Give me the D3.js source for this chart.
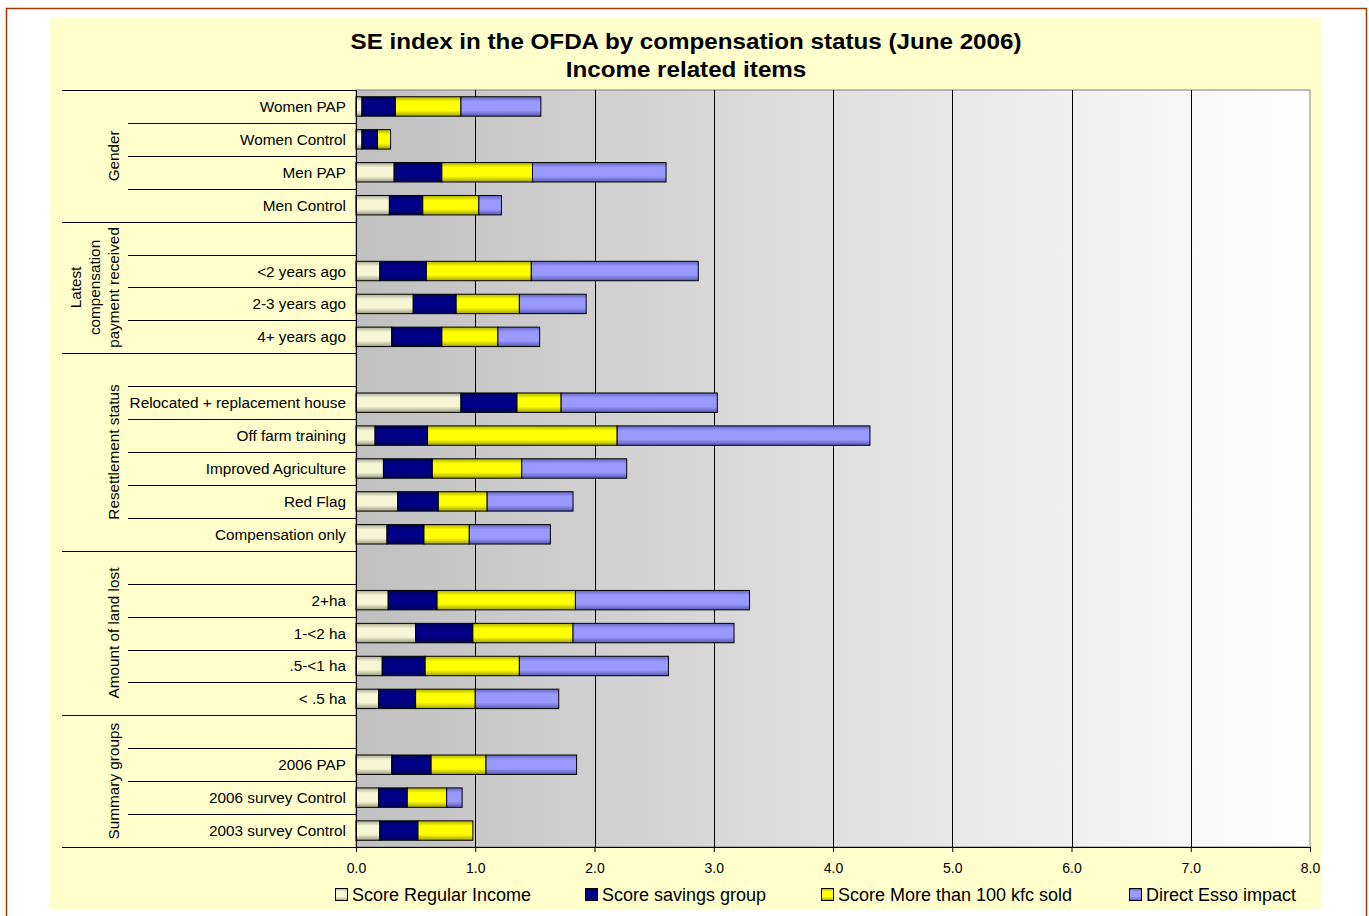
<!DOCTYPE html>
<html>
<head>
<meta charset="utf-8">
<script src="https://cdn.jsdelivr.net/npm/d3@7"></script>
<style>
  body { margin: 0; background: #fff; }
  svg { display: block; font-family: "Liberation Sans", Arial, sans-serif; }
</style>
</head>
<body>
<svg id="chart" width="1369" height="916"></svg>
<script>
// rows from top to bottom, "" = empty spacer row
const categories = ["Women PAP", "Women Control", "Men PAP", "Men Control",
  "", "<2 years ago", "2-3 years ago", "4+ years ago",
  "", "Relocated + replacement house", "Off farm training", "Improved Agriculture", "Red Flag", "Compensation only",
  "", "2+ha", "1-<2 ha", ".5-<1 ha", "< .5 ha",
  "", "2006 PAP", "2006 survey Control", "2003 survey Control"];

const regularIncome = [0.05, 0.05, 0.32, 0.28, 0, 0.20, 0.48, 0.30, 0, 0.88, 0.16, 0.23, 0.35, 0.26, 0, 0.27, 0.50, 0.22, 0.19, 0, 0.30, 0.19, 0.20];
const savingsGroup  = [0.28, 0.13, 0.40, 0.28, 0, 0.39, 0.36, 0.42, 0, 0.47, 0.44, 0.41, 0.34, 0.31, 0, 0.41, 0.48, 0.36, 0.31, 0, 0.33, 0.24, 0.32];
const soldOver100   = [0.55, 0.11, 0.76, 0.47, 0, 0.88, 0.53, 0.47, 0, 0.37, 1.59, 0.75, 0.41, 0.38, 0, 1.16, 0.84, 0.79, 0.50, 0, 0.46, 0.33, 0.46];
const essoImpact    = [0.67, 0, 1.12, 0.19, 0, 1.40, 0.56, 0.35, 0, 1.31, 2.12, 0.88, 0.72, 0.68, 0, 1.46, 1.35, 1.25, 0.70, 0, 0.76, 0.13, 0];

const groupLabels = [["Gender"], ["Latest", "compensation", "payment received"], ["Resettlement status"], ["Amount of land lost"], ["Summary groups"]];
const groupSizes = [4, 4, 6, 5, 4];

const seriesNames = ["Score Regular Income", "Score savings group", "Score More than 100 kfc sold", "Direct Esso impact"];
const xTicks = [0, 1, 2, 3, 4, 5, 6, 7, 8];

const svg = d3.select('#chart');
const plotL = 356, plotR = 1310, plotT = 90, plotB = 847;

// gradients
const defs = svg.append('defs');
const bg = defs.append('linearGradient').attr('id', 'plotbg').attr('x1', 0).attr('x2', 1).attr('y1', 0).attr('y2', 0);
bg.append('stop').attr('offset', 0).attr('stop-color', '#c0c0c0');
bg.append('stop').attr('offset', 1).attr('stop-color', '#ffffff');

const fills = [
  ['#a8a890', '#f6f6d6', '#9a9a80'],
  ['#00005a', '#000086', '#00005a'],
  ['#b0b000', '#ffff00', '#a0a000'],
  ['#6464c0', '#9999ff', '#5858b0']
];
fills.forEach((f, i) => {
  const g = defs.append('linearGradient').attr('id', 'bar' + i).attr('x1', 0).attr('x2', 0).attr('y1', 0).attr('y2', 1);
  g.append('stop').attr('offset', 0).attr('stop-color', f[0]);
  g.append('stop').attr('offset', 0.25).attr('stop-color', f[1]);
  g.append('stop').attr('offset', 0.7).attr('stop-color', f[1]);
  g.append('stop').attr('offset', 1).attr('stop-color', f[2]);
});

// frame
svg.append('rect').attr('x', 6.5).attr('y', 8.5).attr('width', 1360).attr('height', 930)
  .attr('fill', '#fff').attr('stroke', '#a03800').attr('stroke-width', 1.5);
svg.append('rect').attr('x', 50).attr('y', 17).attr('width', 1272).attr('height', 892).attr('fill', '#ffffcc');

// title (the original text is drawn a little wide)
svg.append('text').attr('transform', 'translate(686,49) scale(1.1,1)').attr('text-anchor', 'middle')
  .attr('font-size', 22).attr('font-weight', 'bold').text('SE index in the OFDA by compensation status (June 2006)');
svg.append('text').attr('transform', 'translate(686,77) scale(1.1,1)').attr('text-anchor', 'middle')
  .attr('font-size', 22).attr('font-weight', 'bold').text('Income related items');

// scales
const x = d3.scaleLinear().domain([0, 8]).range([plotL, plotR]);
const y = d3.scaleBand().domain(d3.range(categories.length)).range([plotT, plotB])
  .paddingInner(0.41).paddingOuter(0.205);

// plot area
svg.append('rect').attr('x', plotL).attr('y', plotT).attr('width', plotR - plotL).attr('height', plotB - plotT)
  .attr('fill', 'url(#plotbg)').attr('stroke', '#808080');

svg.append('g').selectAll('line').data(xTicks.slice(1, -1)).join('line')
  .attr('x1', d => Math.round(x(d)) + 0.5).attr('x2', d => Math.round(x(d)) + 0.5)
  .attr('y1', plotT).attr('y2', plotB).attr('stroke', '#000');

// stacked bars
const table = categories.map((c, i) => ({
  idx: i, s0: regularIncome[i], s1: savingsGroup[i], s2: soldOver100[i], s3: essoImpact[i]
}));
const stack = d3.stack().keys(['s0', 's1', 's2', 's3'])(table);

svg.append('g').selectAll('g').data(stack).join('g')
  .attr('fill', (d, i) => `url(#bar${i})`)
  .selectAll('rect').data(d => d.filter(p => p[1] - p[0] > 0)).join('rect')
  .attr('x', d => x(d[0]))
  .attr('width', d => x(d[1]) - x(d[0]))
  .attr('y', d => y(d.data.idx))
  .attr('height', y.bandwidth())
  .attr('stroke', '#000').attr('stroke-width', 1);

// x axis
const xAxis = svg.append('g').attr('transform', `translate(0,${plotB})`)
  .call(d3.axisBottom(x).tickValues(xTicks).tickFormat(d3.format('.1f')).tickSize(5).tickPadding(11));
xAxis.attr('font-family', null).attr('font-size', 14);
xAxis.selectAll('text').attr('fill', '#000');
xAxis.selectAll('line, path').attr('stroke', '#000');

// left axis line
svg.append('line').attr('x1', plotL + 0.5).attr('x2', plotL + 0.5).attr('y1', plotT).attr('y2', plotB).attr('stroke', '#000');

// category labels and separators
const step = y.step();
const rowTop = i => plotT + i * step;
const groupStarts = [];
let acc = 0;
groupSizes.forEach(s => { groupStarts.push(acc); acc += s; });

const lines = svg.append('g').attr('stroke', '#000');
d3.range(categories.length + 1).forEach(i => {
  const full = i === categories.length || groupStarts.includes(i);
  lines.append('line').attr('x1', full ? 62 : 128).attr('x2', plotL)
    .attr('y1', Math.round(rowTop(i)) + 0.5).attr('y2', Math.round(rowTop(i)) + 0.5);
});

svg.append('g').selectAll('text').data(categories).join('text')
  .attr('x', 346).attr('y', (d, i) => rowTop(i) + step / 2 + 5.5)
  .attr('text-anchor', 'end').attr('font-size', 15.3).text(d => d);

groupLabels.forEach((lbl, g) => {
  const cy = rowTop(groupStarts[g]) + groupSizes[g] * step / 2;
  lbl.forEach((t, k) => {
    const cx = 113 - (lbl.length - 1 - k) * 19;
    svg.append('text').attr('transform', `translate(${cx + 5.5},${cy}) rotate(-90)`)
      .attr('text-anchor', 'middle').attr('font-size', 15.3).text(t);
  });
});

// legend
const legendX = [335, 585, 821, 1129];
const legend = svg.append('g').selectAll('g').data(seriesNames).join('g')
  .attr('transform', (d, i) => `translate(${legendX[i]},888)`);
legend.append('rect').attr('x', 0.5).attr('y', 0.5).attr('width', 12).attr('height', 12)
  .attr('fill', (d, i) => `url(#bar${i})`).attr('stroke', '#000');
legend.append('text').attr('x', 17).attr('y', 12.7).attr('font-size', 18).text(d => d);
</script>
</body>
</html>
